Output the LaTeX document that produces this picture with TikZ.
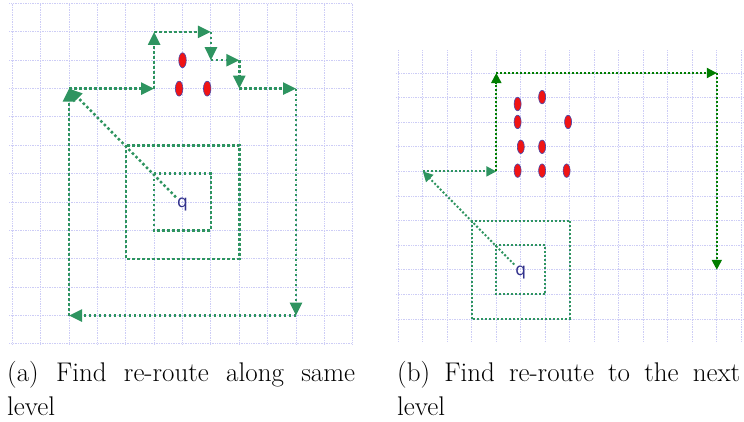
\documentclass[tikz,border=0pt]{standalone}
\usepackage{fontspec}
\usepackage{tikz}
\usetikzlibrary{arrows.meta}
\usetikzlibrary{shapes}
\newfontfamily\qfont{DejaVu Sans}
\definecolor{routegreen}{RGB}{46,148,96}
\definecolor{pathgreen}{RGB}{0,125,0}
\definecolor{gridlav}{RGB}{205,205,246}
\definecolor{dotred}{RGB}{240,20,20}
\definecolor{dotblue}{RGB}{70,70,170}
\definecolor{qblue}{RGB}{50,50,140}
\tikzset{
	gridline/.style={draw=gridlav, line width=1pt, dash pattern=on 1pt off 0.7pt},
	ring/.style={draw=routegreen, line width=2.5pt, dash pattern=on 2.5pt off 2.5pt},
	hop/.style={ring, -{Triangle[length=13pt,width=12pt]}},
	smallring/.style={draw=routegreen, line width=2pt, dash pattern=on 2pt off 2pt},
	smallhop/.style={smallring, -{Triangle[length=10pt,width=10pt]}},
	darkhop/.style={smallhop, draw=pathgreen, fill=pathgreen},
	sensor/.style={ellipse, draw=dotblue, line width=0.6pt, fill=dotred,
		minimum width=7.5pt, minimum height=15pt, inner sep=0pt},
	smallsensor/.style={sensor, minimum width=7pt, minimum height=13.5pt},
	qlabel/.style={text=qblue, font=\qfont\fontsize{17}{17}\selectfont, inner sep=1pt},
	caption/.style={anchor=north west, inner sep=0pt, text width=348pt, align=justify,
		font=\fontsize{27}{34}\selectfont},
}

\begin{document}
\begin{tikzpicture}[x=1pt, y=-1pt]
	\useasboundingbox (0,0) rectangle (744,421);

	% (a) same level
	\begin{scope}[shift={(12.3,3.5)}, x=28.37pt, y=-28.37pt]
		\foreach \i in {0,...,12} \draw[gridline] (\i,0) -- (\i,12);
		\foreach \j in {0,...,12} \draw[gridline] (-0.1,\j) -- (12,\j);
		\draw[ring] (4,5) rectangle (8,9);
		\draw[ring] (5,6) rectangle (7,8);
		\coordinate (s) at (2,3);
		\coordinate (p1) at (5,3);
		\coordinate (p2) at (5,1);
		\coordinate (p3) at (7,1);
		\coordinate (p4) at (7,2);
		\coordinate (p5) at (8,2);
		\coordinate (p6) at (8,3);
		\coordinate (p7) at (10,3);
		\coordinate (p8) at (10,11);
		\coordinate (p9) at (2,11);
		\foreach \from/\to in {s/p1,p1/p2,p2/p3,p3/p4,p4/p5,p5/p6,p6/p7,p7/p8,p8/p9,p9/s}
			\draw[hop] (\from) -- (\to);
		\node[qlabel] (q) at (6,7.1) {q};
		\draw[hop] (q.north west) -- (s);
		\node[sensor] (d1) at (6,2) {};
		\node[sensor] (d2) at (5.88,3) {};
		\node[sensor] (d3) at (6.87,3) {};
	\end{scope}

	% (b) next level
	\begin{scope}[shift={(398.3,73)}, x=24.5pt, y=-24.6pt]
		\foreach \i in {0,...,14} \draw[gridline] (\i,-0.93) -- (\i,10.95);
		\foreach \j in {0,...,10} \draw[gridline] (-0.1,\j) -- (14.2,\j);
		\draw[smallring] (3,6) rectangle (7,10);
		\draw[smallring] (4,7) rectangle (6,9);
		\coordinate (t) at (1,4);
		\coordinate (r1) at (4,4);
		\coordinate (r2) at (4,0);
		\coordinate (r3) at (13,0);
		\coordinate (r4) at (13,8);
		\draw[smallhop] (t) -- (r1);
		\foreach \from/\to in {r1/r2,r2/r3,r3/r4}
			\draw[darkhop] (\from) -- (\to);
		\node[qlabel] (qb) at (5,8.1) {q};
		\draw[smallhop] (qb.north west) -- (t);
		\node[smallsensor] (e1) at (4.87,1.26) {};
		\node[smallsensor] (e2) at (5.87,0.98) {};
		\node[smallsensor] (e3) at (4.87,1.99) {};
		\node[smallsensor] (e4) at (6.93,1.99) {};
		\node[smallsensor] (e5) at (5,3) {};
		\node[smallsensor] (e6) at (5.87,3) {};
		\node[smallsensor] (e7) at (4.87,3.97) {};
		\node[smallsensor] (e8) at (5.87,3.97) {};
		\node[smallsensor] (e9) at (6.87,3.97) {};
	\end{scope}

	\node[caption] (capa) at (7,361) {(a) Find re-route along same\linebreak level};
	\node[caption, text width=343pt] (capb) at (397,361) {(b) Find re-route to the next\linebreak level};
\end{tikzpicture}
\end{document}
